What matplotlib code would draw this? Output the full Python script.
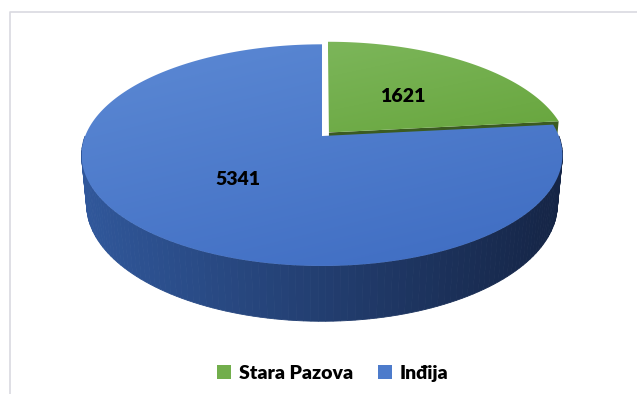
##3D pie of population by town

import numpy as np
import matplotlib.pyplot as plt
from matplotlib.patches import Polygon, Patch

towns = ['Stara Pazova', 'Inđija']
counts = [1621, 5341]
top_colors = [((124, 182, 90), (104, 166, 62)), ((92, 137, 212), (62, 108, 194))]
side_colors = [((62, 94, 36), (50, 78, 28)), ((48, 87, 154), (21, 37, 70))]
face_colors = ['#3b5b21', '#1f3764']
explode = [0.044, 0.0]

plt.rcParams['font.family'] = ['Lato', 'DejaVu Sans']

##view settings (tilt, camera distance, focal, thickness)
elev = np.radians(27)
s, c = np.sin(elev), np.cos(elev)
D = 5.16
f = 1222
h = 0.235
cx, cy = 322, 136


def proj(x, y, z):
    u = x
    v = y * s + z * c
    w = D + y * c - z * s
    return cx + f * u / w, cy - f * v / w


def rim(a0, a1, off, z, n=200):
    t = np.radians(np.linspace(a0, a1, n))
    return proj(np.sin(t) + off[0], np.cos(t) + off[1], z)


def mix(c0, c1, t):
    return tuple((np.array(c0) * (1 - t) + np.array(c1) * t) / 255)


fig = plt.figure(figsize=(6.37, 3.94), dpi=100)
ax = fig.add_axes([0, 0, 1, 1])
ax.set_xlim(0, 637)
ax.set_ylim(394, 0)
ax.axis('off')

##chart border
ax.plot([10, 10, 640], [400, 12, 12], color='#d9d9e0', lw=1.2)

total = sum(counts)
angles = np.cumsum([0] + [v / total * 360 for v in counts])

slices = []
for i in range(len(counts)):
    a0, a1 = angles[i], angles[i + 1]
    mid = np.radians((a0 + a1) / 2)
    off = (explode[i] * np.sin(mid), explode[i] * np.cos(mid))
    slices.append((a0, a1, off))

##radial cut face of green slice facing the viewer
a0, a1, off = slices[0]
t = np.radians(a1)
ex, ey = np.sin(t) + off[0], np.cos(t) + off[1]
p = [proj(off[0], off[1], 0), proj(ex, ey, 0), proj(ex, ey, -h), proj(off[0], off[1], -h)]
ax.add_patch(Polygon(p, closed=True, fc=face_colors[0], ec='none', zorder=1))

##outer walls (front half only)
xl, xr = proj(-1, 0, 0)[0], proj(1, 0, 0)[0]
for i, (a0, a1, off) in enumerate(slices):
    lo, hi = max(a0, 90), min(a1, 270)
    if lo >= hi:
        continue
    edges = np.linspace(lo, hi, 120)
    for k in range(len(edges) - 1):
        tx, ty = rim(edges[k], edges[k + 1], off, 0, 3)
        bx, by = rim(edges[k + 1], edges[k], off, -h, 3)
        xs = np.r_[tx, bx]
        ys = np.r_[ty, by]
        tcol = 1 - (np.mean(tx) - xl) / (xr - xl)
        col = mix(side_colors[i][0], side_colors[i][1], 1 - tcol)
        ax.add_patch(Polygon(np.c_[xs, ys], closed=True, fc=col, ec=col, lw=0.6, zorder=2))

##top surfaces with a soft gradient
for i, (a0, a1, off) in enumerate(slices):
    tx, ty = rim(a0, a1, off, 0)
    ox, oy = proj(off[0], off[1], 0)
    pts = np.c_[np.r_[ox, tx], np.r_[oy, ty]]
    poly = Polygon(pts, closed=True, fc='none', ec='none', zorder=3)
    ax.add_patch(poly)
    x0, x1, y0, y1 = pts[:, 0].min(), pts[:, 0].max(), pts[:, 1].min(), pts[:, 1].max()
    gx, gy = np.meshgrid(np.linspace(0, 1, 64), np.linspace(0, 1, 64))
    g = np.clip(0.35 * gx + 0.65 * gy, 0, 1)
    c0, c1 = np.array(top_colors[i][0]) / 255, np.array(top_colors[i][1]) / 255
    img = c0[None, None, :] * (1 - g[..., None]) + c1[None, None, :] * g[..., None]
    im = ax.imshow(img, extent=[x0, x1, y1, y0], origin='upper', zorder=3, interpolation='bilinear')
    im.set_clip_path(poly)

ax.set_xlim(0, 637)
ax.set_ylim(394, 0)
ax.set_aspect('auto')

##value labels
for i, (a0, a1, off) in enumerate(slices):
    mid = np.radians((a0 + a1) / 2)
    lx, ly = proj(0.5 * np.sin(mid) + off[0], 0.5 * np.cos(mid) + off[1], 0)
    ax.text(lx, ly + 1, str(counts[i]), ha='center', va='center', fontsize=14,
            fontweight='heavy', color='black', zorder=5)

handles = [Patch(fc=mix(*top_colors[0], 0.5)), Patch(fc=mix(*top_colors[1], 0.5))]
fig.legend(handles, towns, loc='center', bbox_to_anchor=(0.522, 0.053), ncol=2, frameon=False,
           handlelength=0.7, handleheight=0.7, handletextpad=0.4, columnspacing=1.3,
           prop={'weight': 'heavy', 'size': 14})

plt.savefig('out.png', dpi=100)
